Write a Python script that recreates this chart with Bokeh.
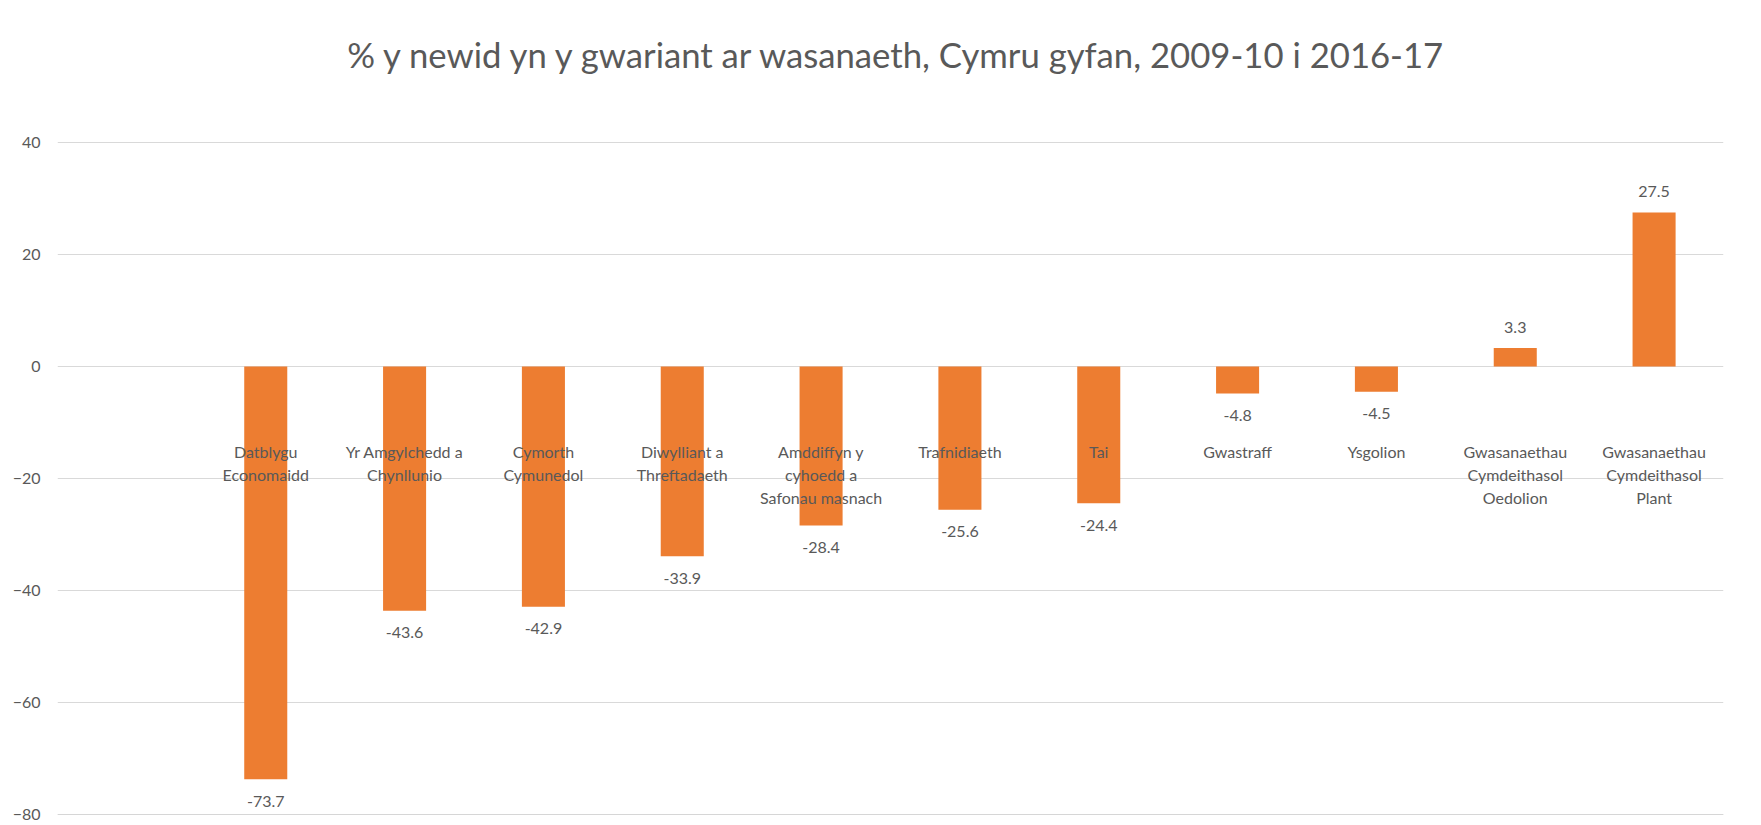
from bokeh.plotting import figure
from bokeh.models import FactorRange, Range1d, FixedTicker, ColumnDataSource, BoxAnnotation
from bokeh.core.properties import value
from bokeh.embed import file_html
from bokeh.resources import INLINE

title_text = "% y newid yn y gwariant ar wasanaeth, Cymru gyfan, 2009-10 i 2016-17"
categories = [
    "Datblygu\nEconomaidd",
    "Yr Amgylchedd a\nChynllunio",
    "Cymorth\nCymunedol",
    "Diwylliant a\nThreftadaeth",
    "Amddiffyn y\ncyhoedd a\nSafonau masnach",
    "Trafnidiaeth",
    "Tai",
    "Gwastraff",
    "Ysgolion",
    "Gwasanaethau\nCymdeithasol\nOedolion",
    "Gwasanaethau\nCymdeithasol\nPlant",
]
values = [-73.7, -43.6, -42.9, -33.9, -28.4, -25.6, -24.4, -4.8, -4.5, 3.3, 27.5]
y_ticks = [-80, -60, -40, -20, 0, 20, 40]

ORANGE = "#ED7D31"
TEXT = "#595959"
GRID = "#D9D9D9"
FONT = "Lato"

W, H = 1761, 825
LEFT, RIGHT = 57, 38
ZERO_PX = 366.0
PX_PER_UNIT = 5.6

factors = [" "] + categories
y_top = ZERO_PX / PX_PER_UNIT
y_bottom = -(H - ZERO_PX) / PX_PER_UNIT

p = figure(
    width=W, height=H,
    x_range=FactorRange(*factors, range_padding=0),
    y_range=Range1d(y_bottom, y_top),
    output_backend="svg", toolbar_location=None,
    min_border_left=LEFT, min_border_right=RIGHT,
    min_border_top=0, min_border_bottom=0,
)
p.outline_line_color = None
p.background_fill_color = "white"
p.border_fill_color = "white"
p.xaxis.visible = False
p.xgrid.grid_line_color = None

p.yaxis.ticker = FixedTicker(ticks=y_ticks)
p.yaxis.axis_line_color = None
p.yaxis.major_tick_line_color = None
p.yaxis.minor_tick_line_color = None
p.yaxis.major_tick_in = 0
p.yaxis.major_tick_out = 0
p.yaxis.major_label_standoff = 17
p.yaxis.major_label_text_font = FONT
p.yaxis.major_label_text_font_size = "16px"
p.yaxis.major_label_text_color = TEXT
p.ygrid.ticker = FixedTicker(ticks=y_ticks)
p.ygrid.grid_line_color = GRID
p.ygrid.grid_line_width = 1

# faint chart-area border (left and top); screen units are frame-relative
p.add_layout(BoxAnnotation(left=10 - LEFT, right=W, top=11, bottom=H + 5,
                           left_units="screen", right_units="screen",
                           top_units="screen", bottom_units="screen",
                           fill_color=None, fill_alpha=0,
                           line_color="#D0D0D0", line_width=1))

src = ColumnDataSource(dict(cat=categories, val=values))
p.vbar(x="cat", top="val", bottom=0, width=0.31, source=src,
       fill_color=ORANGE, line_color=None)

neg = ColumnDataSource(dict(cat=[c for c, v in zip(categories, values) if v < 0],
                            val=[v for v in values if v < 0],
                            lbl=[f"{v:.1f}" for v in values if v < 0]))
pos = ColumnDataSource(dict(cat=[c for c, v in zip(categories, values) if v >= 0],
                            val=[v for v in values if v >= 0],
                            lbl=[f"{v:.1f}" for v in values if v >= 0]))
for s, off in ((neg, 22), (pos, -21)):
    p.text(x="cat", y="val", text="lbl", source=s, y_offset=off,
           text_align="center", text_baseline="middle",
           text_font=value(FONT), text_font_size="16px", text_color=TEXT)

# category labels drawn inside the plot area, as in the source chart
lab = ColumnDataSource(dict(cat=categories, y=[-13.4] * len(categories)))
p.text(x="cat", y="y", text="cat", source=lab,
       text_align="center", text_baseline="top", text_line_height=1.22,
       text_font=value(FONT), text_font_size="16px", text_color=TEXT)

# title
p.text(x=[len(factors) / 2 + 0.055], y=[(ZERO_PX - 54) / PX_PER_UNIT], text=[title_text],
       text_align="center", text_baseline="alphabetic",
       text_font=value(FONT), text_font_size="34.7px", text_color=TEXT)

open("out.html", "w").write(file_html(p, INLINE))
